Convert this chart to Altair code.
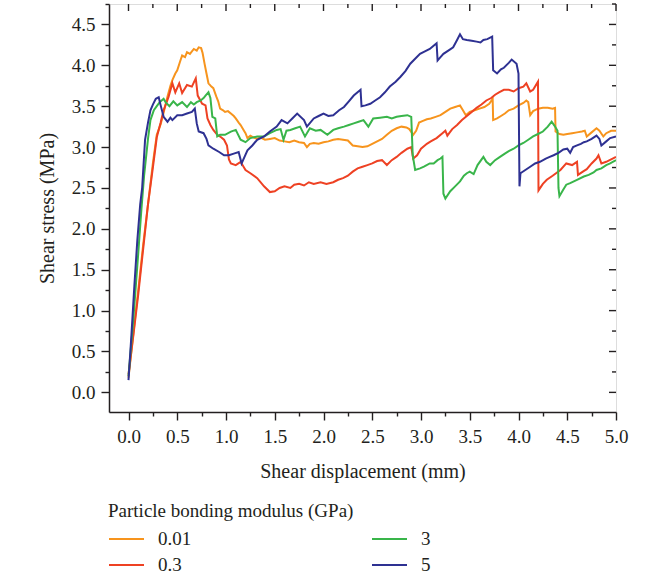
import altair as alt
import pandas as pd

# ---- data ----
x_001 = [0, 0.05, 0.1, 0.15, 0.2, 0.25, 0.29, 0.33, 0.36, 0.4, 0.43, 0.45, 0.48, 0.5, 0.53, 0.55, 0.58, 0.6, 0.63, 0.67, 0.7, 0.72, 0.745, 0.76, 0.78, 0.8, 0.82, 0.85, 0.87, 0.9, 0.92, 0.94, 0.97, 0.99, 1.02, 1.05, 1.08, 1.1, 1.13, 1.15, 1.18, 1.2, 1.22, 1.25, 1.28, 1.32, 1.35, 1.4, 1.45, 1.5, 1.55, 1.6, 1.65, 1.7, 1.75, 1.8, 1.83, 1.86, 1.9, 1.95, 2.0, 2.05, 2.1, 2.15, 2.2, 2.25, 2.3, 2.35, 2.4, 2.45, 2.5, 2.55, 2.6, 2.65, 2.7, 2.75, 2.8, 2.85, 2.88, 2.92, 2.95, 2.98, 3.02, 3.06, 3.1, 3.15, 3.2, 3.25, 3.3, 3.35, 3.4, 3.43, 3.46, 3.5, 3.55, 3.6, 3.65, 3.7, 3.735, 3.74, 3.78, 3.82, 3.86, 3.9, 3.95, 4.0, 4.05, 4.08, 4.1, 4.12, 4.15, 4.2, 4.25, 4.3, 4.35, 4.375, 4.38, 4.42, 4.46, 4.5, 4.55, 4.6, 4.65, 4.68, 4.7, 4.75, 4.8, 4.83, 4.87, 4.9, 4.95, 5.0]
y_001 = [0.18, 0.72, 1.25, 1.8, 2.3, 2.8, 3.15, 3.28, 3.42, 3.62, 3.75, 3.82, 3.9, 3.94, 4.05, 4.12, 4.1, 4.16, 4.14, 4.2, 4.18, 4.22, 4.21, 4.15, 4.02, 3.9, 3.78, 3.74, 3.72, 3.62, 3.56, 3.47, 3.45, 3.43, 3.44, 3.41, 3.38, 3.35, 3.3, 3.27, 3.21, 3.17, 3.11, 3.14, 3.12, 3.1, 3.12, 3.09, 3.1, 3.11, 3.08, 3.07, 3.06, 3.08, 3.06, 3.05, 3.0, 3.04, 3.05, 3.04, 3.06, 3.07, 3.09, 3.1, 3.09, 3.08, 3.02, 3.01, 3.0, 3.01, 3.04, 3.07, 3.1, 3.15, 3.2, 3.23, 3.25, 3.24, 3.22, 3.15, 3.2, 3.3, 3.32, 3.34, 3.35, 3.37, 3.39, 3.43, 3.47, 3.49, 3.51, 3.45, 3.39, 3.43, 3.45, 3.47, 3.49, 3.53, 3.59, 3.33, 3.35, 3.38, 3.41, 3.45, 3.47, 3.51, 3.54, 3.57, 3.55, 3.39, 3.44, 3.47, 3.48, 3.48, 3.47, 3.48, 3.19, 3.16, 3.15, 3.16, 3.17, 3.18, 3.19, 3.2, 3.13, 3.18, 3.23, 3.2, 3.13, 3.17, 3.2, 3.2]

x_03 = [0, 0.05, 0.1, 0.15, 0.2, 0.25, 0.29, 0.33, 0.36, 0.41, 0.45, 0.48, 0.52, 0.55, 0.6, 0.65, 0.69, 0.71, 0.755, 0.79, 0.81, 0.84, 0.87, 0.91, 0.95, 0.98, 1.01, 1.03, 1.05, 1.1, 1.15, 1.2, 1.25, 1.32, 1.39, 1.45, 1.5, 1.55, 1.6, 1.66, 1.7, 1.75, 1.8, 1.85, 1.9, 1.97, 2.03, 2.1, 2.15, 2.2, 2.25, 2.3, 2.35, 2.4, 2.45, 2.5, 2.55, 2.6, 2.65, 2.7, 2.75, 2.8, 2.86, 2.9, 2.92, 2.96, 3.0, 3.06, 3.1, 3.16, 3.22, 3.25, 3.27, 3.32, 3.37, 3.42, 3.47, 3.52, 3.57, 3.62, 3.67, 3.72, 3.76, 3.8, 3.85, 3.9, 3.95, 4.0, 4.05, 4.08, 4.12, 4.15, 4.2, 4.205, 4.25, 4.29, 4.35, 4.43, 4.49, 4.55, 4.6, 4.61, 4.66, 4.7, 4.75, 4.8, 4.82, 4.85, 4.9, 4.95, 5.0]
y_03 = [0.22, 0.7, 1.2, 1.75, 2.3, 2.75, 3.12, 3.3, 3.45, 3.61, 3.78, 3.67, 3.78, 3.66, 3.76, 3.74, 3.84, 3.63, 3.53, 3.51, 3.35, 3.27, 3.21, 3.15, 3.12, 3.09, 3.02, 2.85, 2.8, 2.78, 2.82, 2.72, 2.68, 2.62, 2.52, 2.45, 2.46, 2.5, 2.52, 2.5, 2.54, 2.55, 2.53, 2.57, 2.55, 2.57, 2.55, 2.57, 2.6, 2.62, 2.65, 2.7, 2.74, 2.76, 2.78, 2.8, 2.83, 2.84, 2.78, 2.84, 2.88, 2.93, 2.98, 3.0, 2.86, 2.9, 2.98, 3.04, 3.07, 3.11, 3.17, 3.2, 3.14, 3.22, 3.27, 3.33, 3.38, 3.43, 3.48, 3.52, 3.57, 3.6, 3.64, 3.67, 3.7, 3.7, 3.68, 3.72, 3.74, 3.78, 3.68, 3.7, 3.8, 2.47, 2.55, 2.6, 2.65, 2.72, 2.8, 2.78, 2.82, 2.66, 2.7, 2.73, 2.8, 2.86, 2.9, 2.8, 2.82, 2.85, 2.88]

x_3 = [0, 0.05, 0.1, 0.13, 0.16, 0.2, 0.225, 0.26, 0.29, 0.32, 0.36, 0.38, 0.42, 0.46, 0.5, 0.55, 0.6, 0.64, 0.67, 0.7, 0.74, 0.77, 0.79, 0.82, 0.84, 0.86, 0.89, 0.91, 0.94, 0.99, 1.05, 1.1, 1.15, 1.2, 1.25, 1.32, 1.39, 1.45, 1.52, 1.56, 1.59, 1.62, 1.66, 1.71, 1.76, 1.81, 1.86, 1.92, 1.97, 2.04, 2.1, 2.15, 2.21, 2.26, 2.31, 2.36, 2.41, 2.46, 2.51, 2.58, 2.65, 2.7, 2.75, 2.8, 2.86, 2.9, 2.915, 2.94, 2.99, 3.03, 3.09, 3.13, 3.17, 3.2, 3.22, 3.23, 3.25, 3.3, 3.35, 3.4, 3.44, 3.47, 3.5, 3.54, 3.58, 3.64, 3.67, 3.71, 3.76, 3.81, 3.86, 3.9, 3.95, 4.0, 4.05, 4.1, 4.15, 4.2, 4.25, 4.3, 4.34, 4.37, 4.4, 4.41, 4.42, 4.46, 4.49, 4.53, 4.6, 4.67, 4.72, 4.77, 4.8, 4.85, 4.9, 4.94, 5.0]
y_3 = [0.2, 0.9, 1.7, 2.2, 2.65, 3.1, 3.33, 3.45, 3.5, 3.55, 3.59, 3.55, 3.5, 3.56, 3.51, 3.55, 3.49, 3.55, 3.52, 3.55, 3.57, 3.6, 3.63, 3.67, 3.6, 3.37, 3.35, 3.13, 3.15, 3.15, 3.19, 3.21, 3.09, 3.06, 3.11, 3.13, 3.13, 3.17, 3.21, 3.22, 3.09, 3.2, 3.21, 3.23, 3.25, 3.13, 3.23, 3.2, 3.21, 3.15, 3.21, 3.23, 3.25, 3.27, 3.29, 3.31, 3.33, 3.25, 3.35, 3.36, 3.37, 3.35, 3.37, 3.38, 3.39, 3.37, 2.9, 2.72, 2.74, 2.76, 2.8, 2.8, 2.84, 2.86, 2.88, 2.43, 2.37, 2.46, 2.52, 2.58, 2.65, 2.68, 2.7, 2.67, 2.78, 2.88, 2.82, 2.78, 2.84, 2.88, 2.92, 2.95, 2.98, 3.02, 3.05, 3.09, 3.13, 3.16, 3.19, 3.25, 3.31, 3.26, 3.2, 2.5, 2.4, 2.48, 2.54, 2.56, 2.6, 2.64, 2.66, 2.69, 2.72, 2.74, 2.78, 2.8, 2.84]

x_5 = [0, 0.03, 0.06, 0.09, 0.12, 0.14, 0.17, 0.2, 0.225, 0.25, 0.28, 0.31, 0.33, 0.36, 0.4, 0.43, 0.45, 0.5, 0.55, 0.6, 0.65, 0.68, 0.7, 0.72, 0.77, 0.8, 0.82, 0.87, 0.93, 0.98, 1.03, 1.08, 1.13, 1.16, 1.19, 1.22, 1.27, 1.32, 1.39, 1.45, 1.52, 1.57, 1.63, 1.68, 1.73, 1.8, 1.83, 1.9, 1.95, 2.0, 2.05, 2.1, 2.16, 2.21, 2.26, 2.31, 2.38, 2.39, 2.43, 2.48, 2.53, 2.58, 2.63, 2.68, 2.74, 2.79, 2.84, 2.89, 2.94, 2.99, 3.04, 3.09, 3.12, 3.16, 3.17, 3.2, 3.23, 3.28, 3.33, 3.37, 3.4, 3.43, 3.47, 3.52, 3.57, 3.61, 3.64, 3.68, 3.73, 3.74, 3.78, 3.82, 3.85, 3.9, 3.93, 3.98, 4.0, 4.01, 4.02, 4.07, 4.12, 4.17, 4.22, 4.28, 4.32, 4.36, 4.41, 4.46, 4.5, 4.53, 4.56, 4.6, 4.64, 4.67, 4.7, 4.75, 4.8, 4.83, 4.85, 4.9, 4.94, 5.0]
y_5 = [0.15, 0.7, 1.3, 1.85, 2.3, 2.5, 3.09, 3.3, 3.45, 3.52, 3.59, 3.61, 3.51, 3.37, 3.31, 3.36, 3.33, 3.39, 3.39, 3.41, 3.43, 3.47, 3.29, 3.19, 3.17, 3.1, 3.02, 2.98, 2.94, 2.9, 2.9, 2.92, 2.94, 2.8, 2.88, 2.96, 3.02, 3.09, 3.13, 3.19, 3.25, 3.33, 3.29, 3.35, 3.41, 3.33, 3.25, 3.35, 3.38, 3.41, 3.38, 3.39, 3.45, 3.49, 3.56, 3.63, 3.7, 3.5, 3.51, 3.53, 3.57, 3.61, 3.67, 3.74, 3.8, 3.86, 3.93, 4.02, 4.08, 4.14, 4.17, 4.2, 4.23, 4.27, 4.06, 4.1, 4.14, 4.18, 4.22, 4.31, 4.38, 4.32, 4.31, 4.3, 4.29, 4.28, 4.31, 4.32, 4.35, 3.94, 3.9, 3.95, 3.97, 4.03, 4.07, 4.02, 3.9, 2.52, 2.68, 2.72, 2.76, 2.8, 2.82, 2.86, 2.88, 2.9, 2.93, 2.97, 2.98, 2.93, 3.0, 3.02, 3.04, 3.06, 3.07, 3.1, 3.14, 3.1, 3.02, 3.07, 3.11, 3.13]

series_names = ["0.01", "0.3", "3", "5"]
series_colors = ["#F7941D", "#EE4123", "#39B54A", "#2E3192"]

x_major = [0, 0.5, 1.0, 1.5, 2.0, 2.5, 3.0, 3.5, 4.0, 4.5, 5.0]
x_minor = [0.25, 0.75, 1.25, 1.75, 2.25, 2.75, 3.25, 3.75, 4.25, 4.75]
y_major = [0, 0.5, 1.0, 1.5, 2.0, 2.5, 3.0, 3.5, 4.0, 4.5]
y_minor = [-0.25, 0.25, 0.75, 1.25, 1.75, 2.25, 2.75, 3.25, 3.75, 4.25, 4.75]
x_domain = [-0.2, 5.0]
y_domain = [-0.24, 4.75]

rows = []
for name, xs_, ys_ in zip(series_names, [x_001, x_03, x_3, x_5], [y_001, y_03, y_3, y_5]):
    for i, (a, b) in enumerate(zip(xs_, ys_)):
        rows.append({"x": a, "y": b, "s": name, "i": i})
df = pd.DataFrame(rows)

FONT = "Liberation Serif"
INK = "#231F20"
W, H = 507, 408

xs = alt.Scale(domain=x_domain, nice=False, zero=False)
ys = alt.Scale(domain=y_domain, nice=False, zero=False)

lines = alt.Chart(df).mark_line(strokeWidth=2.0, clip=True).encode(
    x=alt.X("x:Q", scale=xs, axis=alt.Axis(
        orient="bottom", values=x_major, format=".1f", tickSize=8, tickWidth=1.4,
        domainWidth=1.5, domainColor=INK, tickColor=INK, labelColor=INK,
        labelFont=FONT, labelFontSize=19, labelPadding=7, labelFlush=False,
        labelOverlap=False, grid=False,
        title="Shear displacement (mm)", titleFont=FONT, titleFontSize=20,
        titleFontWeight="normal", titleColor=INK, titlePadding=15)),
    y=alt.Y("y:Q", scale=ys, axis=alt.Axis(
        orient="left", values=y_major, format=".1f", tickSize=8, tickWidth=1.4,
        domainWidth=1.5, domainColor=INK, tickColor=INK, labelColor=INK,
        labelFont=FONT, labelFontSize=19, labelPadding=6, labelFlush=False,
        labelOverlap=False, grid=False,
        title="Shear stress (MPa)", titleFont=FONT, titleFontSize=20,
        titleFontWeight="normal", titleColor=INK, titlePadding=14)),
    color=alt.Color("s:N", scale=alt.Scale(domain=series_names, range=series_colors),
                    legend=alt.Legend(
                        title="Particle bonding modulus (GPa)", orient="none",
                        legendX=-1, legendY=498, columns=2, columnPadding=176,
                        rowPadding=5, symbolType="M-1,0L2.5,0", symbolSize=400,
                        symbolStrokeWidth=2, labelOffset=28, labelFont=FONT,
                        labelFontSize=19, labelColor=INK, titleFont=FONT,
                        titleFontSize=19, titleFontWeight="normal", titleColor=INK,
                        titlePadding=7, titleLimit=500, padding=0)),
    order=alt.Order("i:Q"),
)

minor = alt.Chart(df).mark_point(opacity=0).encode(
    x=alt.X("x:Q", scale=xs, axis=alt.Axis(
        orient="bottom", values=x_minor, tickSize=4, tickWidth=1.4, tickColor=INK,
        labels=False, domain=False, grid=False, title=None)),
    y=alt.Y("y:Q", scale=ys, axis=alt.Axis(
        orient="left", values=y_minor, tickSize=4, tickWidth=1.4, tickColor=INK,
        labels=False, domain=False, grid=False, title=None)),
)

tx_major = pd.DataFrame({"t": x_major})
tx_minor = pd.DataFrame({"t": x_minor})
ty_major = pd.DataFrame({"t": y_major})
ty_minor = pd.DataFrame({"t": [v for v in y_minor if v > 0]})

top_major = alt.Chart(tx_major).mark_rule(color=INK, strokeWidth=1.4).encode(
    x=alt.X("t:Q", scale=xs, axis=None), y=alt.value(0), y2=alt.value(7))
top_minor = alt.Chart(tx_minor).mark_rule(color=INK, strokeWidth=1.4).encode(
    x=alt.X("t:Q", scale=xs, axis=None), y=alt.value(0), y2=alt.value(4))
right_major = alt.Chart(ty_major).mark_rule(color=INK, strokeWidth=1.4).encode(
    y=alt.Y("t:Q", scale=ys, axis=None), x=alt.value(W), x2=alt.value(W - 7))
right_minor = alt.Chart(ty_minor).mark_rule(color=INK, strokeWidth=1.4).encode(
    y=alt.Y("t:Q", scale=ys, axis=None), x=alt.value(W), x2=alt.value(W - 4))

chart = alt.layer(minor, top_major, top_minor, right_major, right_minor, lines).resolve_axis(
    x="independent", y="independent"
).properties(
    width=W, height=H,
    autosize=alt.AutoSizeParams(type="none"),
    padding={"left": 109, "top": 4, "right": 30, "bottom": 168},
).configure_view(
    stroke=INK, strokeWidth=1.5
).configure(background="white")

chart.save("out.html", embed_options={"renderer": "svg", "actions": False})
